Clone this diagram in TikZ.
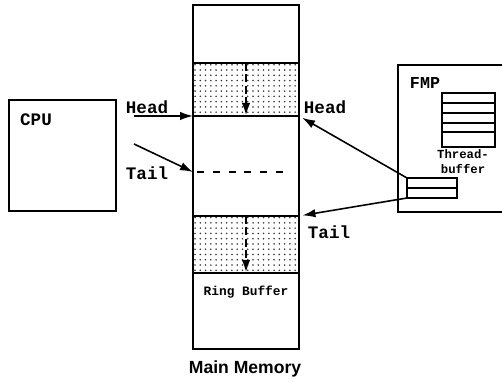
\documentclass[tikz,border=0pt]{standalone}
\usepackage{fontspec}
\setmonofont{Liberation Mono}
\setsansfont{Liberation Sans}
\usetikzlibrary{positioning,patterns,arrows.meta,calc}

\tikzset{
  box/.style={draw, line width=0.8pt, inner sep=0pt, outer sep=0pt},
  seg/.style={box, minimum width=2.12cm, anchor=north},
  dotseg/.style={seg, pattern=dots, pattern color=black!80},
  lbl/.style={inner sep=1pt, font=\ttfamily\bfseries\fontsize{10}{12}\selectfont},
  small/.style={inner sep=1pt, font=\ttfamily\bfseries\fontsize{7}{8.5}\selectfont},
  ptr/.style={-{Latex[length=2.6mm,width=1.7mm]}, line width=0.9pt},
  move/.style={ptr, dashed, dash pattern=on 4.5pt off 2pt, line width=1.4pt}
}

\begin{document}
\begin{tikzpicture}[x=0.02cm, y=-0.02cm]
    \useasboundingbox (0,0) rectangle (502,381);

    % Main memory
    \node[seg, minimum height=1.16cm] (m0) at (246,5) {};
    \node[dotseg, minimum height=1.06cm, below=0pt of m0] (m1) {};
    \node[seg, minimum height=2cm, below=0pt of m1] (m2) {};
    \node[dotseg, minimum height=1.14cm, below=0pt of m2] (m3) {};
    \node[seg, minimum height=1.52cm, below=0pt of m3] (m4) {};
    \draw[move] (m1.north) -- (m1.south);
    \draw[move] (m3.north) -- (m3.south);
    \coordinate (tailpt) at ($(m2.north west)+(0,56)$);
    \coordinate (tailend) at ($(tailpt)+(97,0)$);
    \draw[line width=0.8pt, dash pattern=on 4pt off 5pt] ($(tailpt)+(4,0)$) -- (tailend);
    \node[small, font=\ttfamily\bfseries\fontsize{7.3}{9}\selectfont] (ring) at (246,292) {Ring Buffer};
    \node[font=\sffamily\bfseries\fontsize{10}{12}\selectfont] (mmL) at (245,369) {Main Memory};

    % CPU
    \node[box, minimum width=2.14cm, minimum height=2.22cm] (cpu) at (62.5,155.5) {};
    \node[lbl] (cpuL) at (36,120) {CPU};
    \coordinate (cpuH) at (134,116);
    \coordinate (cpuT) at (134,144);
    \draw[ptr] (cpuH) -- (m1.south west);
    \draw[ptr] (cpuT) -- (tailpt);
    \node[lbl] (headL) at (147,107) {Head};
    \node[lbl] (tailL) at (147,173) {Tail};

    % FMP
    \draw[line width=0.8pt] (502,65) -| (398,212) -- (502,212);
    \node[lbl, font=\ttfamily\bfseries\fontsize{9.5}{11}\selectfont] (fmpL) at (425,83) {FMP};
    \node[box, minimum width=1.06cm, minimum height=1.08cm] (tbuf) at (468.5,120) {};
    \foreach \y in {103,113,123,132}
        \draw[line width=0.7pt] (tbuf.west |- 0,\y) -- (tbuf.east |- 0,\y);
    \node[small, align=center] (tbufL) at (463,161.5) {Thread-\\buffer};
    \node[box, minimum width=1cm, minimum height=0.4cm] (reg) at (432,188) {};
    \draw[line width=0.7pt] (reg.west) -- (reg.east);
    \draw[ptr, shorten >=2pt] (reg.north west) -- (m1.south east);
    \draw[ptr, shorten >=2pt] (reg.south west) -- (m3.north east);
    \node[lbl] (headR) at (325,107) {Head};
    \node[lbl] (tailR) at (329,232) {Tail};
\end{tikzpicture}
\end{document}
